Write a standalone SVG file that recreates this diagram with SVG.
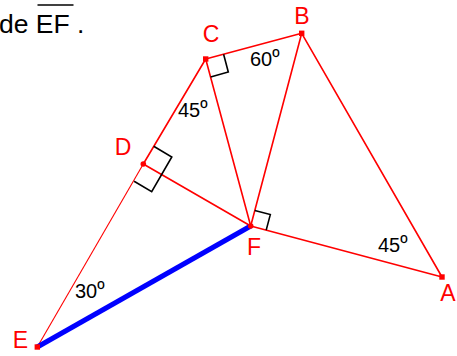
<svg xmlns="http://www.w3.org/2000/svg" width="457" height="356" viewBox="0 0 457 356">
<style>
.seg{stroke:#ff0000;stroke-width:1.6;fill:none;stroke-linecap:round}
.thin{stroke:#ff0000;stroke-width:1.1;fill:none}
.ra{stroke:#000;stroke-width:1.6;fill:none}
.pt{fill:#ff0000}
.vl{font-family:"Liberation Sans",Arial,sans-serif;font-size:23px;fill:#ff0000;text-anchor:middle}
.al{font-family:"Liberation Sans",Arial,sans-serif;font-size:20px;fill:#000}
.hd{font-family:"Liberation Sans",Arial,sans-serif;font-size:26.5px;fill:#000}
</style>
<rect width="457" height="356" fill="#fff"/>
<text class="hd" x="-1" y="32.5">de EF .</text>
<line x1="37.5" y1="5" x2="73.5" y2="5" stroke="#000" stroke-width="1.6"/>
<g id="connectors">
<line class="thin" x1="37.3" y1="347" x2="143.3" y2="164"/>
<line class="seg" x1="143.3" y1="164" x2="205.7" y2="59"/>
<line class="seg" x1="205.7" y1="59" x2="301.7" y2="33.3"/>
<line class="seg" x1="301.7" y1="33.3" x2="442" y2="277"/>
<line class="seg" x1="301.7" y1="33.3" x2="250.7" y2="226"/>
<line class="seg" x1="205.7" y1="59" x2="250.7" y2="226"/>
<line class="seg" x1="143.3" y1="164" x2="250.7" y2="226"/>
<line class="seg" x1="250.7" y1="226" x2="442" y2="277"/>
<line x1="37.3" y1="347" x2="250.7" y2="226" stroke="#0000ff" stroke-width="5"/>
<polyline class="ra" points="223.6,54.3 228.3,72 210.6,77"/>
<polyline class="ra" points="153.7,146.3 171.8,157 151.7,191.6 134.1,181.3"/>
<polyline class="ra" points="254.8,210.5 270.3,214.6 266.2,230.1"/>
</g>
<g id="A"><rect class="pt" x="439.3" y="274.3" width="5.4" height="5.4"/><text class="vl" x="448" y="301">A</text><text class="al" x="378" y="252">45<tspan dy="-2">º</tspan></text></g>
<g id="B"><rect class="pt" x="299" y="30.6" width="5.4" height="5.4"/><text class="vl" x="302" y="24">B</text><text class="al" x="250" y="66">60<tspan dy="-2">º</tspan></text></g>
<g id="C"><rect class="pt" x="203" y="56.3" width="5.4" height="5.4"/><text class="vl" x="211" y="42">C</text><text class="al" x="178" y="117">45<tspan dy="-2">º</tspan></text></g>
<g id="D"><circle class="pt" cx="143.3" cy="164" r="2.8"/><text class="vl" x="123" y="155">D</text></g>
<g id="E"><rect class="pt" x="34.6" y="344.3" width="5.4" height="5.4"/><text class="vl" x="20.5" y="348">E</text><text class="al" x="75" y="298">30<tspan dy="-2">º</tspan></text></g>
<g id="F"><circle class="pt" cx="250.7" cy="226" r="2.8"/><text class="vl" x="254" y="255">F</text></g>
</svg>
